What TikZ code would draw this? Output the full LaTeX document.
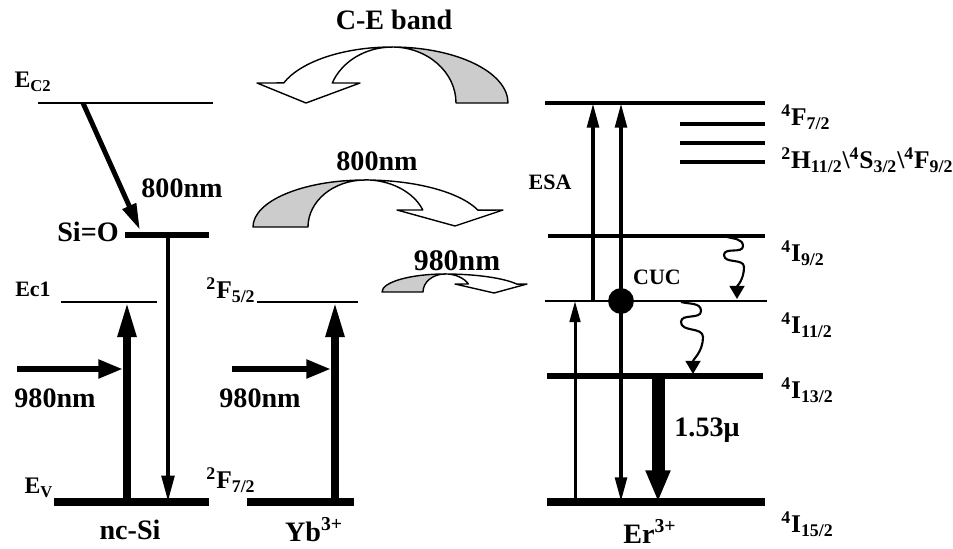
\documentclass[tikz,border=0pt]{standalone}
\usepackage{fontspec}
\setmainfont{Liberation Serif}
\usetikzlibrary{arrows.meta}

\begin{document}
\begin{tikzpicture}[x=0.02cm, y=0.02cm,
    every node/.style={inner sep=0pt, font=\fontsize{16}{18}\selectfont\bfseries},
    term/.style={font=\fontsize{14.5}{16}\selectfont\bfseries},
    small/.style={font=\fontsize{12.5}{14}\selectfont\bfseries},
    thin level/.style={line width=1.7pt},
    mid level/.style={line width=2.3pt},
    thick level/.style={line width=3.4pt},
    ground/.style={line width=4.3pt},
    band/.style={line width=0.8pt, line join=round},
    pump/.style={line width=4pt, -{Triangle[length=20pt,width=10pt]}},
    beam/.style={line width=3.4pt, -{Triangle[length=14pt,width=10pt]}},
    decay/.style={line width=2.5pt, -{Triangle[length=15pt,width=7pt]}},
    esa/.style={line width=2.3pt, -{Triangle[length=14pt,width=6.5pt]}},
    wavy/.style={line width=1.2pt, -{Triangle[length=7.5pt,width=8.5pt]}}]
    \path[use as bounding box] (0,0) rectangle (953,-548);

    \coordinate (EC2L) at (38,-103);   \coordinate (EC2R) at (213,-103);
    \coordinate (SiOL) at (125,-235);  \coordinate (SiOR) at (209,-235);
    \coordinate (Ec1L) at (61,-302);   \coordinate (Ec1R) at (157,-302);
    \coordinate (EvL) at (54,-502);    \coordinate (EvR) at (209,-502);
    \coordinate (F52L) at (257,-302);  \coordinate (F52R) at (358,-302);
    \coordinate (F72L) at (247,-502);  \coordinate (F72R) at (354,-502);
    \coordinate (Fe72L) at (545,-103); \coordinate (Fe72R) at (765,-103);
    \coordinate (I92L) at (548,-236);  \coordinate (I92R) at (765,-236);
    \coordinate (I112L) at (545,-301); \coordinate (I112R) at (767,-301);
    \coordinate (I132L) at (547,-376); \coordinate (I132R) at (763,-376);
    \coordinate (I152L) at (547,-502); \coordinate (I152R) at (765,-502);

    \coordinate (pumpSi) at (127,0);  \coordinate (decaySi) at (168,0);
    \coordinate (pumpYb) at (335,0);
    \coordinate (gsa) at (575,0);     \coordinate (esa) at (593,0);
    \coordinate (cuc) at (621,0);     \coordinate (emit) at (658,0);

    \draw[thin level] (EC2L) -- (EC2R);
    \draw[thick level] (SiOL) -- (SiOR);
    \draw[thin level] (Ec1L) -- (Ec1R);
    \draw[ground] (EvL) -- (EvR);
    \draw[thin level] (F52L) -- (F52R);
    \draw[ground] (F72L) -- (F72R);
    \draw[mid level] (Fe72L) -- (Fe72R);
    \foreach \y in {124,143,162}
      \draw[mid level] (680,-\y) -- (765,-\y);
    \draw[mid level] (I92L) -- (I92R);
    \draw[thin level] (I112L) -- (I112R);
    \draw[thick level] (I132L) -- (I132R);
    \draw[line width=4.6pt] (I152L) -- (I152R);

    \node (ceLabel) at (394,-20) {C-E band};
    \node[small, font=\fontsize{13.5}{15}\selectfont\bfseries] (EC2lab) at (33,-82) {E\textsubscript{C2}};
    \node (relaxLab) at (182,-188) {800nm};
    \node (SiOlab) at (88,-232) {Si=O};
    \node[small] (Ec1lab) at (33,-289) {Ec1};
    \node (pumpSiLab) at (55,-398) {980nm};
    \node[font=\fontsize{13.5}{15}\selectfont\bfseries] (Evlab) at (39,-488) {E\textsubscript{V}};
    \node (ncSi) at (130,-530) {nc-Si};
    \node[term] (F52lab) at (231,-290) {\textsuperscript{2}F\textsubscript{5/2}};
    \node[term] (F72lab) at (231,-480) {\textsuperscript{2}F\textsubscript{7/2}};
    \node (pumpYbLab) at (260,-398) {980nm};
    \node (Yb) at (314,-530) {Yb\textsuperscript{3+}};
    \node (trans800) at (377,-161) {800nm};
    \node[font=\fontsize{17}{19}\selectfont\bfseries] (trans980) at (457,-261) {980nm};
    \node[small] (ESAlab) at (550,-182) {ESA};
    \node[small] (CUClab) at (657,-277) {CUC};
    \node (emitLab) at (707,-430) {1.53μ};
    \node (Er) at (650,-531) {Er\textsuperscript{3+}};
    \node[term, anchor=west] (Fe72lab) at (781,-117) {\textsuperscript{4}F\textsubscript{7/2}};
    \node[term, anchor=west] (Hlab) at (781,-160)
      {\textsuperscript{2}H\textsubscript{11/2}\textbackslash\textsuperscript{4}S\textsubscript{3/2}\textbackslash\textsuperscript{4}F\textsubscript{9/2}};
    \node[term, anchor=west] (I92lab) at (781,-253) {\textsuperscript{4}I\textsubscript{9/2}};
    \node[term, anchor=west] (I112lab) at (781,-325) {\textsuperscript{4}I\textsubscript{11/2}};
    \node[term, anchor=west] (I132lab) at (781,-390) {\textsuperscript{4}I\textsubscript{13/2}};
    \node[term, anchor=west] (I152lab) at (781,-524) {\textsuperscript{4}I\textsubscript{15/2}};

    \coordinate (relaxA) at (83,-103);
    \coordinate (relaxB) at (140,-230);
    \draw[line width=2.8pt, -{Triangle[length=15pt,width=8pt]}] (relaxA) -- (relaxB);
    \draw[pump] (pumpSi |- EvL) -- (pumpSi |- Ec1L);
    \draw[decay] (decaySi |- SiOL) -- (decaySi |- EvL);
    \coordinate (beamSi) at (17,-369);
    \draw[beam] (beamSi) -- (beamSi -| 123,0);
    \draw[pump] (pumpYb |- F72L) -- (pumpYb |- F52L);
    \coordinate (beamYb) at (232,-369);
    \draw[beam] (beamYb) -- (beamYb -| 331,0);

    \node[circle, fill, minimum size=14.7pt] (cucDot) at (cuc |- I112L) {};
    \draw[line width=1.7pt, -{Triangle[length=12pt,width=6pt]}] (gsa |- I152L) -- (gsa |- I112L);
    \draw[esa] (esa |- I112L) -- (esa |- Fe72L);
    \draw[esa] (cucDot.center) -- (cuc |- Fe72L);
    \draw[esa] (cucDot.center) -- (cuc |- I152L);
    \draw[line width=7.4pt, -{Triangle[length=18pt,width=13pt]}] (emit |- I132L) -- (emit |- I152L);

    \coordinate (relax1a) at (727,-237);
    \coordinate (relax1b) at (737,-299);
    \coordinate (relax2a) at (681,-302);
    \coordinate (relax2b) at (693,-374);
    \draw[wavy] (relax1a) to[out=-15,in=90] (743,-246) to[out=-90,in=90] (724,-255)
      to[out=-90,in=90] (744,-267) to[out=-90,in=90] (relax1b);
    \draw[wavy] (relax2a) to[out=-15,in=90] (701,-311) to[out=-90,in=90] (681,-322)
      to[out=-90,in=90] (703,-337) to[out=-90,in=90] (relax2b);

    \coordinate (ceTop) at (392,-47);
    \filldraw[band, fill=black!20] (ceTop)
      arc[start angle=90, end angle=0, x radius=116, y radius=56] -- ++(-52,0)
      arc[start angle=0, end angle=90, x radius=64, y radius=56] -- cycle;
    \filldraw[band, fill=white] (ceTop)
      arc[start angle=90, end angle=159, x radius=116, y radius=56]
      -- (257,-83) -- (306,-103) -- (360,-83) -- (332.3,-83)
      arc[start angle=159, end angle=90, x radius=64, y radius=56] -- cycle;

    \coordinate (t800Top) at (365,-180);
    \filldraw[band, fill=black!20] (t800Top)
      arc[start angle=90, end angle=180, x radius=112, y radius=47] -- ++(55,0)
      arc[start angle=180, end angle=90, x radius=57, y radius=47] -- cycle;
    \filldraw[band, fill=white] (t800Top)
      arc[start angle=90, end angle=21, x radius=121, y radius=47]
      -- (503,-210) -- (455,-226) -- (397,-210) -- (422.8,-210)
      arc[start angle=21, end angle=90, x radius=62, y radius=47] -- cycle;

    \coordinate (t980Top) at (445,-274);
    \filldraw[band, fill=black!20] (t980Top)
      arc[start angle=90, end angle=180, x radius=63, y radius=18] -- ++(41,0)
      arc[start angle=180, end angle=90, x radius=22, y radius=18] -- cycle;
    \filldraw[band, fill=white] (t980Top)
      arc[start angle=90, end angle=26, x radius=80, y radius=18]
      -- (527,-284) -- (494,-293) -- (455,-284) -- (468.4,-284)
      arc[start angle=26, end angle=90, x radius=26, y radius=18] -- cycle;
\end{tikzpicture}
\end{document}
